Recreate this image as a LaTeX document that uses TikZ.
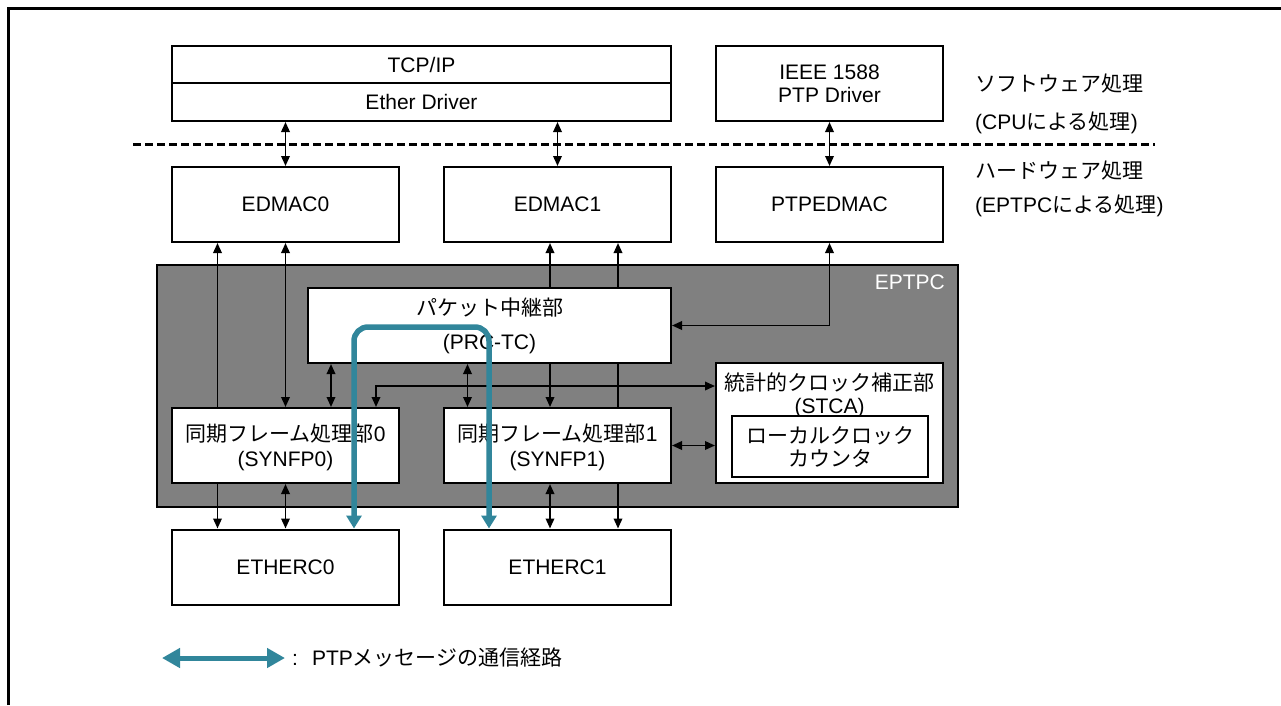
\documentclass[tikz,border=0pt]{standalone}
\usepackage{fontspec}
\setmainfont{Liberation Sans}
\newfontfamily\jp{Noto Sans CJK JP}
\usepackage{tikz}
\usetikzlibrary{arrows.meta, positioning, backgrounds}

\definecolor{azulverde}{HTML}{31869B}
\definecolor{gris}{HTML}{808080}

\tikzset{
  caja/.style={draw, line width=2pt, fill=white, minimum width=227pt, minimum height=75pt, align=center, inner sep=0pt},
  texto/.style={align=center, inner sep=0pt},
  flecha/.style={line width=1.8pt, -{Triangle[length=10pt,width=8.5pt]}},
  dflecha/.style={line width=1.8pt, {Triangle[length=10pt,width=8.5pt]}-{Triangle[length=10pt,width=8.5pt]}},
  ruta/.style={draw=azulverde, line width=5.5pt, {Triangle[length=13pt,width=15pt]}-{Triangle[length=13pt,width=15pt]}},
  leyenda/.style={draw=azulverde, line width=5pt, {Triangle[length=18pt,width=19pt]}-{Triangle[length=18pt,width=19pt]}}
}

\begin{document}
\begin{tikzpicture}[x=1pt, y=-1pt, font=\fontsize{21}{23}\selectfont]
\useasboundingbox (0,0) rectangle (1281,705);
% Marco
\draw[line width=3pt] (8.5,705) -- (8.5,8.5) -- (1281,8.5);

% Software
\node[caja, minimum width=499pt, minimum height=37pt] (tcp) at (421.5,64.5) {TCP/IP};
\node[caja, minimum width=499pt, minimum height=38pt] (ether) at (421.5,102) {Ether Driver};
\node[caja] (ieee) at (829.5,83.5) {IEEE 1588\\PTP Driver};
\node[anchor=west, inner sep=0pt] (sw) at (975,84) {\jp ソフトウェア処理};
\node[anchor=west, inner sep=0pt] (swcpu) at (975,123) {(CPU{\jp による処理})};
\draw[line width=3pt, dash pattern=on 8pt off 4pt] (133,144) -- (1155,144);

% Hardware
\node[anchor=west, inner sep=0pt] (hw) at (975,171) {\jp ハードウェア処理};
\node[anchor=west, inner sep=0pt] (hweptpc) at (975,206) {(EPTPC{\jp による処理})};
\node[caja] (edmac0) at (285.5,204.5) {EDMAC0};
\node[caja] (edmac1) at (557.5,204.5) {EDMAC1};
\node[caja] (ptpedmac) at (829.5,204.5) {PTPEDMAC};

% EPTPC
\node[caja, minimum width=363pt] (prctc) at (489.5,325.5) {{\jp パケット中継部}\\[11pt](PRC-TC)};
\node[caja, text depth=0pt] (synfp0) at (285.5,445.5) {{\jp 同期フレーム処理部}0\\[2pt](SYNFP0)};
\node[caja, text depth=0pt] (synfp1) at (557.5,445.5) {{\jp 同期フレーム処理部}1\\[2pt](SYNFP1)};
\node[caja, minimum height=120pt] (stca) at (829.5,423) {};
\node[texto] (stcatit) at (829.5,395.5) {{\jp 統計的クロック補正部}\\(STCA)};
\node[caja, minimum width=196pt, minimum height=61pt] (contador) at (830,446.5) {{\jp ローカルクロック}\\{\jp カウンタ}};
\node[caja] (etherc0) at (285.5,567) {ETHERC0};
\node[caja] (etherc1) at (557.5,567) {ETHERC1};

\begin{scope}[on background layer]
  \node[draw, line width=2pt, fill=gris, minimum width=801pt, minimum height=242pt, inner sep=0pt] (eptpc) at (557.5,386) {};
  \node[anchor=east, text=white, inner sep=0pt] (eptpctit) at (945,282) {EPTPC};
  \draw[dflecha] (edmac0.north |- ether.south) -- (edmac0.north);
  \draw[dflecha] (edmac1.north |- ether.south) -- (edmac1.north);
  \draw[dflecha] (ieee.south) -- (ptpedmac.north);
  \draw[flecha] (217.5,0 |- synfp0.north) -- (217.5,0 |- edmac0.south);
  \draw[dflecha] (edmac0.south) -- (synfp0.north);
  \draw[dflecha] (550,0 |- edmac1.south) -- (550,0 |- synfp1.north);
  \draw[flecha] (618,0 |- synfp1.north) -- (618,0 |- edmac1.south);
  \draw[dflecha] (331,0 |- prctc.south) -- (331,0 |- synfp0.north);
  \draw[dflecha] (467.5,0 |- prctc.south) -- (467.5,0 |- synfp1.north);
  \draw[dflecha] (ptpedmac.south) |- (prctc.east);
  \draw[dflecha] (376,0 |- synfp0.north) |- (stca.west |- 0,386);
  \draw[dflecha] (synfp1.east) -- (stca.west |- synfp1.east);
  \draw[flecha] (217.5,0 |- synfp0.south) -- (217.5,0 |- etherc0.north);
  \draw[dflecha] (synfp0.south) -- (etherc0.north);
  \draw[dflecha] (550,0 |- synfp1.south) -- (550,0 |- etherc1.north);
  \draw[flecha] (618,0 |- synfp1.south) -- (618,0 |- etherc1.north);
\end{scope}

% Ruta PTP
\draw[ruta, rounded corners=14pt] (354,0 |- etherc0.north) -- (354,327) -- (489,327) -- (489,0 |- etherc1.north);

% Leyenda
\coordinate (leyizq) at (162,658);
\coordinate (leyder) at (285,658);
\draw[leyenda] (leyizq) -- (leyder);
\node[anchor=west, inner sep=0pt] (leytexto) at (292,658) {:\hspace{14pt}PTP{\jp メッセージの通信経路}};
\end{tikzpicture}
\end{document}
